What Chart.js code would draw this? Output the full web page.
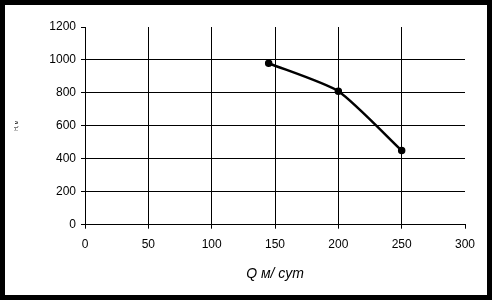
<!DOCTYPE html>
<html>
<head>
<meta charset="utf-8">
<script src="https://cdn.jsdelivr.net/npm/chart.js@4"></script>
<style>
    html, body { margin: 0; padding: 0; background: #000; }
    .frame { position: absolute; left: 5px; top: 5px; width: 482px; height: 290px; background: #fff; }
</style>
</head>
<body>
<div class="frame"><canvas id="chart" width="482" height="290"></canvas></div>
<script>
// Data
const flowQ = [145, 200, 250];
const headH = [980, 810, 450];
const xTicks = [0, 50, 100, 150, 200, 250, 300];
const yTicks = [0, 200, 400, 600, 800, 1000, 1200];
const xTitle = 'Q м/ сут';
const yTitle = 'Н, м';

const ctx = document.getElementById('chart');

new Chart(ctx, {
    type: 'scatter',
    data: {
        datasets: [{
            data: flowQ.map((q, i) => ({ x: q, y: headH[i] })),
            showLine: true,
            borderColor: '#000',
            backgroundColor: '#000',
            borderWidth: 2.5,
            pointRadius: 2.5,
            pointBackgroundColor: '#000',
            tension: 0.2
        }]
    },
    options: {
        responsive: false,
        animation: false,
        layout: { padding: { top: 22, right: 22, bottom: 0, left: 0 } },
        plugins: {
            legend: { display: false },
            tooltip: { enabled: false }
        },
        scales: {
            x: {
                type: 'linear',
                min: 0, max: 300,
                afterBuildTicks: s => { s.ticks = xTicks.map(v => ({ value: v })); },
                afterFit: s => { s.height = 70.3; },
                ticks: {
                    color: '#000',
                    font: { family: 'Liberation Sans', size: 12 },
                    padding: 9,
                    maxRotation: 0,
                    callback: v => String(v)
                },
                grid: {
                    color: c => c.tick && c.tick.value === 300 ? 'rgba(0,0,0,0)' : '#000',
                    tickColor: '#000',
                    tickLength: 4,
                    lineWidth: 1
                },
                border: { color: '#000', width: 1 },
                title: {
                    display: true,
                    text: xTitle,
                    color: '#000',
                    font: { family: 'Liberation Sans', size: 14, style: 'italic' },
                    padding: { top: 0, bottom: 12 }
                }
            },
            y: {
                min: 0, max: 1200,
                afterBuildTicks: s => { s.ticks = yTicks.map(v => ({ value: v })); },
                afterFit: s => { s.width = 80; },
                ticks: {
                    color: '#000',
                    font: { family: 'Liberation Sans', size: 12 },
                    padding: 5,
                    callback: v => String(v)
                },
                grid: {
                    color: c => c.tick && c.tick.value === 1200 ? 'rgba(0,0,0,0)' : '#000',
                    tickColor: '#000',
                    tickLength: 4,
                    lineWidth: 1
                },
                border: { color: '#000', width: 1 },
                title: {
                    display: true,
                    text: yTitle,
                    color: '#000',
                    font: { family: 'Liberation Sans', size: 5 },
                    padding: { top: 9, bottom: 0 }
                }
            }
        }
    }
});
</script>
</body>
</html>
